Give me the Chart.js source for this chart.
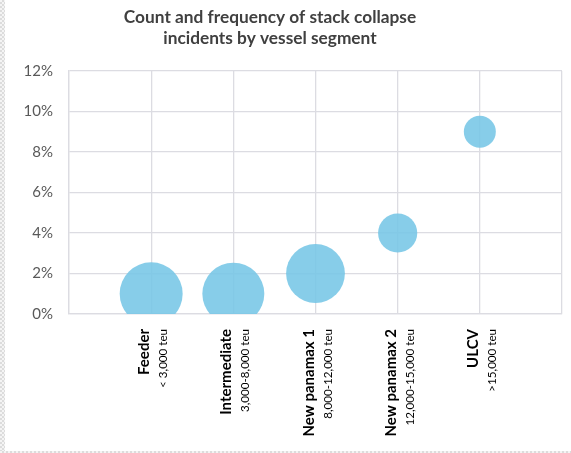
<!DOCTYPE html>
<html>
<head>
<meta charset="utf-8">
<script src="https://cdn.jsdelivr.net/npm/chart.js@4/dist/chart.umd.min.js"></script>
<style>
  html, body { margin: 0; padding: 0; background: #ffffff; }
  #wrap { position: relative; width: 571px; height: 453px; overflow: hidden; }
  #wrap canvas { position: absolute; left: 0; top: 0; }
  /* thin checker strips along the left and bottom edges */
  .edge { position: absolute; background-color: #ececec;
    background-image: repeating-conic-gradient(#dcdcdc 0 25%, #f4f4f4 0 50%);
    background-size: 4px 4px; }
  #edgeL { left: 0; top: 0; width: 5px; height: 453px; }
  #edgeB { left: 0; bottom: 0; width: 571px; height: 2px; }
</style>
</head>
<body>
<div id="wrap">
  <canvas id="chart" width="571" height="453"></canvas>
  <div class="edge" id="edgeL"></div>
  <div class="edge" id="edgeB"></div>
</div>
<script>
// Vessel segments along the x axis
const segments = ['Feeder', 'Intermediate', 'New panamax 1', 'New panamax 2', 'ULCV'];
const segmentSizes = ['< 3,000 teu', '3,000-8,000 teu', '8,000-12,000 teu', '12,000-15,000 teu', '>15,000 teu'];
// Frequency of stack collapse incidents (share of vessels)
const frequency = [0.01, 0.01, 0.02, 0.04, 0.09];
// Count of incidents (drives bubble area)
const incidentCount = [31, 30, 27, 12, 8];
// Y axis tick values
const yTicks = [0, 0.02, 0.04, 0.06, 0.08, 0.10, 0.12];

const TITLE_LINES = ['Count and frequency of stack collapse', 'incidents by vessel segment'];
const FONT = 'Lato, "Open Sans", sans-serif';
const GRID = '#dcdce2';
const MAX_R = 31.5;
const maxCount = Math.max(...incidentCount);

const points = segments.map((s, i) => ({
  x: i + 1,
  y: frequency[i],
  r: MAX_R * Math.sqrt(incidentCount[i] / maxCount)
}));

// Two-line title drawn at a fixed centre
const titlePlugin = {
  id: 'twoLineTitle',
  afterDraw(chart) {
    const ctx = chart.ctx;
    ctx.save();
    ctx.font = 'bold 17.3px ' + FONT;
    ctx.fillStyle = '#404040';
    ctx.textAlign = 'center';
    ctx.textBaseline = 'alphabetic';
    ctx.fillText(TITLE_LINES[0], 270, 23);
    ctx.fillText(TITLE_LINES[1], 270, 44);
    ctx.restore();
  }
};

// Rotated category labels: bold segment name plus its size range
const categoryLabels = {
  id: 'categoryLabels',
  afterDraw(chart) {
    const ctx = chart.ctx;
    const xs = chart.scales.x;
    const top = chart.chartArea.bottom + 15;
    ctx.save();
    ctx.fillStyle = '#000000';
    ctx.textAlign = 'right';
    ctx.textBaseline = 'alphabetic';
    segments.forEach((name, i) => {
      const px = xs.getPixelForValue(i + 1);
      ctx.save();
      ctx.translate(px - 2, top);
      ctx.rotate(-Math.PI / 2);
      ctx.font = 'bold 15px ' + FONT;
      ctx.fillText(name, 0, 0);
      ctx.restore();
      ctx.save();
      ctx.translate(px + 16, top);
      ctx.rotate(-Math.PI / 2);
      ctx.font = '11.6px ' + FONT;
      ctx.fillText(segmentSizes[i], 0, 0);
      ctx.restore();
    });
    ctx.restore();
  }
};

new Chart(document.getElementById('chart'), {
  type: 'bubble',
  data: {
    datasets: [{
      label: 'Stack collapse incidents',
      data: points,
      backgroundColor: 'rgba(118, 198, 230, 0.88)',
      borderWidth: 0,
      hoverBorderWidth: 0
    }]
  },
  options: {
    responsive: false,
    animation: false,
    events: [],
    layout: { autoPadding: false, padding: { top: 71, right: 9, left: 0, bottom: 0 } },
    plugins: {
      legend: { display: false },
      title: { display: false },
      tooltip: { enabled: false }
    },
    scales: {
      x: {
        type: 'linear',
        min: 0,
        max: segments.length + 1,
        ticks: { stepSize: 1, display: false },
        grid: { color: GRID, lineWidth: 1.3, drawTicks: false },
        border: { color: GRID, width: 1.3 },
        afterFit(scale) { scale.height = 453 - 314; }
      },
      y: {
        min: 0,
        max: yTicks[yTicks.length - 1],
        afterBuildTicks(scale) { scale.ticks = yTicks.map(v => ({ value: v })); },
        ticks: {
          padding: 16,
          color: '#595959',
          font: { family: FONT, size: 15 },
          callback: v => Math.round(v * 100) + '%'
        },
        grid: { color: GRID, lineWidth: 1.3, drawTicks: false },
        border: { color: GRID, width: 1.3 },
        afterFit(scale) { scale.width = 69; }
      }
    }
  },
  plugins: [titlePlugin, categoryLabels]
});
</script>
</body>
</html>
